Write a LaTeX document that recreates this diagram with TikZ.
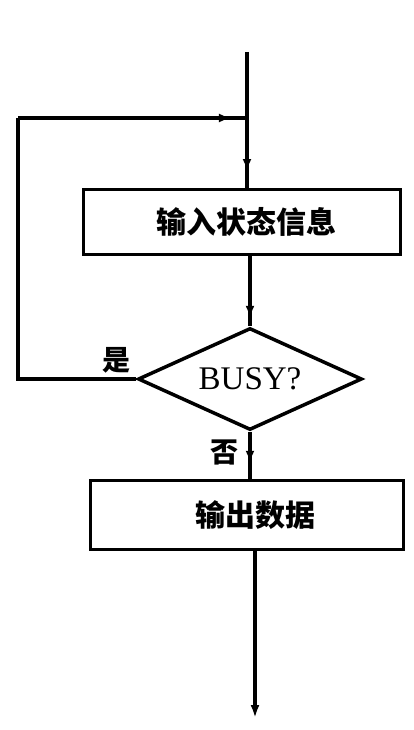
\documentclass[tikz,border=0pt]{standalone}
\usepackage{fontspec}
\newfontfamily\cjk{Noto Sans CJK SC}
\newfontfamily\latinserif{Liberation Serif}
\usetikzlibrary{shapes.geometric,decorations.markings,arrows.meta}

\tikzset{
  midarrow/.style={postaction={decorate},
    decoration={markings, mark=at position #1 with {\arrow{Latex[length=12pt,width=9pt]}}}},
  procbox/.style={rectangle, draw, inner sep=0pt, font=\cjk\bfseries\fontsize{30}{30}\selectfont},
  decision/.style={diamond, draw, aspect=2.2, inner sep=0pt, minimum width=224pt, minimum height=102pt,
    font=\latinserif\fontsize{33}{33}\selectfont},
  answer/.style={inner sep=0pt, font=\cjk\bfseries\fontsize{28}{28}\selectfont}
}

\begin{document}
\begin{tikzpicture}[x=1pt, y=-1pt, line width=3.5pt]
\useasboundingbox (0,0) rectangle (413,730);

\coordinate (top) at (247,52);
\coordinate (join) at (247,118);
\coordinate (lc) at (18,118);
\coordinate (bottom) at (255,718);

\node[procbox, minimum width=317pt, minimum height=65pt] (inbox) at (242,222) {\hspace{8pt}输入状态信息};
\node[decision] (busy) at (250,379) {BUSY?};
\node[procbox, minimum width=313pt, minimum height=69pt] (outbox) at (247,515) {\hspace{16pt}输出数据};

\node[answer] (yes) at (116,360) {是};
\node[answer] (no) at (224,452) {否};

\draw (top) -- (join);
\draw[midarrow=0.76] (join) -- (join |- inbox.north);
\draw[midarrow=0.88] (inbox.south -| busy.north) -- (busy.north);
\draw[midarrow=0.66] (busy.south) -- (busy.south |- outbox.north);
\draw[-{Latex[length=13pt,width=9pt]}] (outbox.south -| bottom) -- (bottom);

\draw (busy.west) -| (lc);
\draw[midarrow=0.93] (lc) -- (join);
\end{tikzpicture}
\end{document}
